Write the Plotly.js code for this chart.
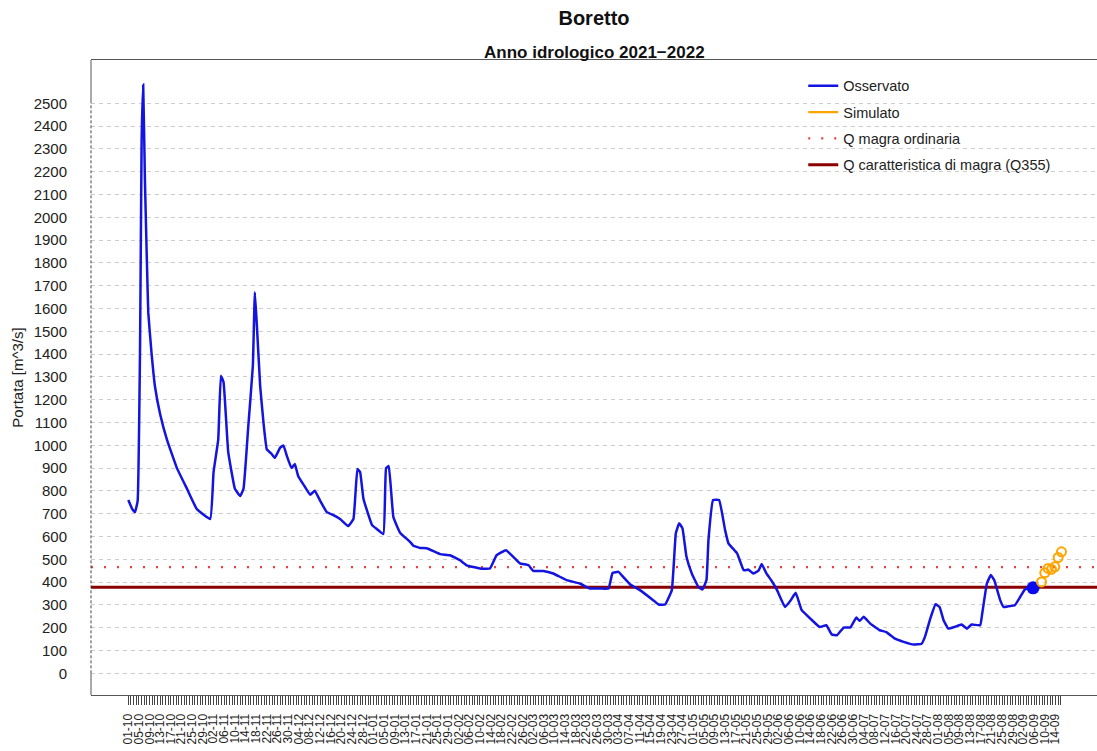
<!DOCTYPE html>
<html>
<head>
<meta charset="utf-8">
<script src="https://cdn.plot.ly/plotly-3.0.1.min.js"></script>
<style>html,body{margin:0;padding:0;background:#fff;}#chart{width:1097px;height:751px;}</style>
</head>
<body>
<div id="chart"></div>
<script>
// ---------- DATA ----------
const chartTitle = 'Boretto';
const chartSubtitle = 'Anno idrologico 2021\u22122022';
const yTitle = 'Portata [m^3/s]';
const seriesNames = ['Osservato', 'Simulato', 'Q magra ordinaria', 'Q caratteristica di magra (Q355)'];

const obsDates = [
  '2021-10-01','2021-10-02 12:00','2021-10-03 12:00','2021-10-04 12:00','2021-10-05 10:00','2021-10-06 00:00','2021-10-06 14:00','2021-10-07 06:00','2021-10-08 00:00','2021-10-08 12:00','2021-10-09 18:00','2021-10-11','2021-10-13','2021-10-15 12:00','2021-10-19 06:00','2021-10-23','2021-10-26 18:00','2021-10-31 18:00',
  '2021-11-02','2021-11-03 18:00','2021-11-04 18:00','2021-11-05 18:00','2021-11-07 12:00','2021-11-10','2021-11-12','2021-11-13 06:00','2021-11-15','2021-11-16 18:00','2021-11-17 12:00','2021-11-18 06:00','2021-11-19 12:00','2021-11-20 18:00','2021-11-22','2021-11-23 18:00','2021-11-25','2021-11-27','2021-11-28 06:00','2021-11-29 12:00',
  '2021-12-01 06:00','2021-12-02 12:00','2021-12-03 18:00','2021-12-05 18:00','2021-12-08 06:00','2021-12-10','2021-12-12','2021-12-14 12:00','2021-12-17','2021-12-19 12:00','2021-12-22 12:00','2021-12-24 12:00','2021-12-26','2021-12-27','2021-12-28 06:00','2021-12-31 12:00',
  '2022-01-02 06:00','2022-01-04 18:00','2022-01-05 18:00','2022-01-06 18:00','2022-01-08 12:00','2022-01-11','2022-01-14 18:00','2022-01-16','2022-01-18 12:00','2022-01-21','2022-01-26','2022-01-29 18:00',
  '2022-02-02 12:00','2022-02-05','2022-02-10','2022-02-13 18:00','2022-02-16 06:00','2022-02-19 18:00','2022-02-22 12:00','2022-02-25','2022-02-28 06:00',
  '2022-03-02','2022-03-05 18:00','2022-03-09 12:00','2022-03-14 12:00','2022-03-19 12:00','2022-03-23 06:00','2022-03-27','2022-03-30 06:00','2022-03-31 18:00',
  '2022-04-03','2022-04-04 18:00','2022-04-07 06:00','2022-04-11','2022-04-16','2022-04-18','2022-04-20 12:00','2022-04-23','2022-04-24 12:00','2022-04-25 18:00','2022-04-27','2022-04-28 12:00','2022-04-30 12:00',
  '2022-05-03','2022-05-04 12:00','2022-05-06','2022-05-06 18:00','2022-05-08 12:00','2022-05-10 18:00','2022-05-13','2022-05-14 06:00','2022-05-17 12:00','2022-05-20','2022-05-21 18:00','2022-05-23 12:00','2022-05-25 12:00','2022-05-26 18:00','2022-05-28 12:00','2022-05-30 12:00',
  '2022-06-01 12:00','2022-06-04 12:00','2022-06-06 12:00','2022-06-08 12:00','2022-06-10 18:00','2022-06-14','2022-06-17 12:00','2022-06-20','2022-06-22','2022-06-24','2022-06-26 12:00','2022-06-29',
  '2022-07-01 06:00','2022-07-02 12:00','2022-07-04','2022-07-06 12:00','2022-07-10','2022-07-12 12:00','2022-07-15 18:00','2022-07-19','2022-07-22 18:00','2022-07-25 18:00','2022-07-27','2022-07-29','2022-07-31',
  '2022-08-01 12:00','2022-08-03','2022-08-04 18:00','2022-08-07 06:00','2022-08-09 18:00','2022-08-11 18:00','2022-08-13 12:00','2022-08-16 18:00','2022-08-17 12:00','2022-08-19 06:00','2022-08-20 18:00','2022-08-22','2022-08-24 06:00','2022-08-25 12:00','2022-08-27 06:00','2022-08-29 18:00','2022-08-31 18:00',
  '2022-09-02 12:00','2022-09-04 12:00','2022-09-05 14:00'
];
const obsValues = [
  760,720,707,755,1436,2335,2582,2157,1796,1582,1401,1259,1134,1025,900,810,720,677,
  883,1025,1305,1277,971,810,778,810,1078,1349,1671,1528,1259,1099,982,963,945,990,999,954,
  900,918,866,828,783,801,757,707,694,677,646,677,896,883,766,650,
  633,611,900,909,685,617,577,560,550,549,523,518,
  496,474,460,460,518,540,511,482,474,
  449,449,438,409,394,372,372,372,440,
  445,423,391,365,321,302,302,365,614,658,636,511,438,
  379,368,409,584,760,760,628,570,526,452,455,438,450,479,438,405,
  365,291,318,353,277,240,203,211,171,167,201,201,
  245,230,248,218,189,181,152,138,126,130,160,240,303,
  291,233,196,204,214,196,214,211,262,394,431,409,321,291,294,299,335,
  368,377,375
];

const simDates = ['2022-09-08 18:00','2022-09-10 00:00','2022-09-11 06:00','2022-09-12 12:00','2022-09-13 18:00','2022-09-15 00:00','2022-09-16 06:00'];
const simValues = [401, 441, 460, 456, 467, 508, 533];

const qMagraOrdinaria = 466;
const q355 = 378;

const yTicks = [0,100,200,300,400,500,600,700,800,900,1000,1100,1200,1300,1400,1500,1600,1700,1800,1900,2000,2100,2200,2300,2400,2500];
const xRange = ['2021-09-17 00:00', '2022-09-29 14:00'];
const yRange = [-95, 2690];
const firstTickDay = '2021-10-01';
const lastTickDay = '2022-09-16';
const labelEveryDays = 4;

// ---------- derived tick positions (calendar days) ----------
function dayList(a, b) {
  const out = [];
  const d = new Date(a + 'T00:00:00Z');
  const end = new Date(b + 'T00:00:00Z');
  while (d <= end) { out.push(d.toISOString().slice(0, 10)); d.setUTCDate(d.getUTCDate() + 1); }
  return out;
}
const allDays = dayList(firstTickDay, lastTickDay);
const labelDays = allDays.filter((_, i) => i % labelEveryDays === 0);

// ---------- traces ----------
const FONT = '"Liberation Sans", Arial, Helvetica, sans-serif';
const traces = [
  { x: xRange, y: [q355, q355], mode: 'lines', name: seriesNames[3], legendgroup: 'g4', legendrank: 4,
    line: { color: '#8b0000', width: 3 }, hoverinfo: 'skip' },
  { x: xRange, y: [qMagraOrdinaria, qMagraOrdinaria], mode: 'lines', name: seriesNames[2], legendgroup: 'g3', legendrank: 3,
    line: { color: '#f03c3c', width: 2.2, dash: '2px,11px' }, hoverinfo: 'skip' },
  { x: obsDates, y: obsValues, mode: 'lines', name: seriesNames[0], legendgroup: 'g1', legendrank: 1,
    line: { color: '#1414e0', width: 2.5, shape: 'spline', smoothing: 0.3 } },
  { x: [null], y: [null], mode: 'lines', name: seriesNames[1], legendgroup: 'g2', legendrank: 2,
    line: { color: '#ffa500', width: 2.4 } },
  { x: [obsDates[obsDates.length - 1]], y: [obsValues[obsValues.length - 1]], mode: 'markers', showlegend: false,
    marker: { color: '#0a0aee', size: 13 } },
  { x: simDates, y: simValues, mode: 'markers', showlegend: false,
    marker: { symbol: 'circle-open', color: '#ffa500', size: 9, line: { width: 2, color: '#ffa500' } } }
];

const layout = {
  width: 1097, height: 751,
  margin: { l: 91, r: 0, t: 60, b: 56 },
  paper_bgcolor: '#ffffff', plot_bgcolor: '#ffffff',
  font: { family: FONT, color: '#222' },
  showlegend: true,
  title: { text: '<b>' + chartTitle + '</b>', font: { size: 20, family: FONT, color: '#111' },
           x: 0.5, xref: 'paper', xanchor: 'center', y: 1 - 18 / 751, yref: 'container', yanchor: 'middle' },
  annotations: [
    { text: '<b>' + chartSubtitle + '</b>', xref: 'paper', yref: 'paper', x: 0.5, y: 1 + 8 / 635,
      xanchor: 'center', yanchor: 'middle', showarrow: false, font: { size: 17, family: FONT, color: '#111' } }
  ],
  xaxis: {
    type: 'date', range: xRange, autorange: false,
    tickmode: 'array', tickvals: labelDays, tickformat: '%d-%m', tickangle: -90,
    ticks: 'outside', ticklen: 9, tickwidth: 1, tickcolor: '#444', ticklabelstandoff: 4,
    tickfont: { size: 12, family: FONT, color: '#222' },
    minor: { tickmode: 'array', tickvals: allDays, ticks: 'outside', ticklen: 9, tickwidth: 1, tickcolor: '#444', showgrid: false },
    showgrid: false, zeroline: false,
    showline: true, mirror: true, linecolor: '#555', linewidth: 1
  },
  yaxis: {
    range: yRange, autorange: false,
    tickmode: 'array', tickvals: yTicks, ticks: '',
    tickfont: { size: 15, family: FONT, color: '#222' }, ticklabelstandoff: 23,
    showgrid: true, gridcolor: '#cccccc', griddash: '4px,4px', gridwidth: 1,
    zeroline: false, showline: false,
    title: { text: yTitle, font: { size: 15, family: FONT, color: '#222' }, standoff: 6 }
  },
  legend: {
    x: 0.708, y: 0.9845, xanchor: 'left', yanchor: 'top',
    bgcolor: 'rgba(0,0,0,0)', borderwidth: 0,
    font: { size: 14.5, family: FONT, color: '#222' },
    traceorder: 'grouped', tracegroupgap: 4.5
  },
  shapes: [
    { type: 'line', xref: 'paper', yref: 'y', x0: 0, x1: 0, y0: yTicks[0], y1: yTicks[yTicks.length - 1],
      line: { color: '#444', width: 1, dash: '3px,2px' } },
    { type: 'line', xref: 'paper', yref: 'y', x0: 0, x1: 0, y0: yTicks[yTicks.length - 1], y1: yRange[1],
      line: { color: '#555', width: 1 } },
    { type: 'line', xref: 'paper', yref: 'y', x0: 0, x1: 0, y0: yRange[0], y1: yTicks[0],
      line: { color: '#555', width: 1 } }
  ]
};

Plotly.newPlot('chart', traces, layout, { displayModeBar: false, staticPlot: true });
</script>
</body>
</html>
